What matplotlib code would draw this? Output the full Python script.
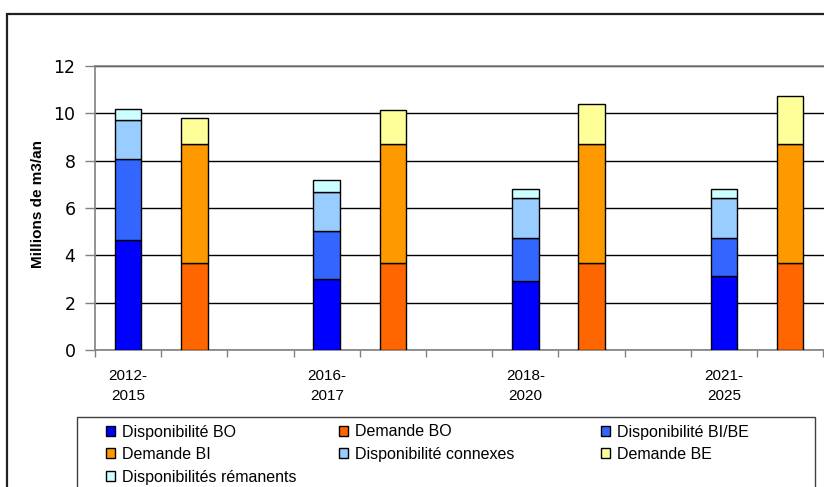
import numpy as np
import matplotlib.pyplot as plt
import matplotlib.patches as patches

plt.rcParams['font.family'] = ['Liberation Sans', 'DejaVu Sans']

# valeurs (millions de m3/an)
periodes = ["2012-\n2015", "2016-\n2017", "2018-\n2020", "2021-\n2025"]
dispo_bo = [4.66, 3.02, 2.92, 3.12]
dispo_bibe = [3.42, 2.01, 1.80, 1.60]
dispo_connexes = [1.65, 1.65, 1.69, 1.69]
dispo_remanents = [0.45, 0.49, 0.40, 0.40]
demande_bo = [3.67, 3.66, 3.67, 3.67]
demande_bi = [5.03, 5.04, 5.05, 5.05]
demande_be = [1.12, 1.45, 1.69, 2.01]

W, H = 824, 487
fig = plt.figure(figsize=(W / 100, H / 100), dpi=100)
ax = fig.add_axes([95 / W, 1 - 350 / H, 12 * 66.2 / W, 284 / H])

x_dispo = np.arange(len(periodes)) * 3 + 0.5
x_dem = x_dispo + 1
larg = 0.4
kw = dict(width=larg, edgecolor='black', linewidth=1, zorder=3)

def empile(xs, series, couleurs):
    bas = np.zeros(len(xs))
    barres = []
    for s, c in zip(series, couleurs):
        b = ax.bar(xs, s, bottom=bas, color=c, **kw)
        bas = bas + np.array(s)
        barres.append(b)
    return barres

b_dbo, b_dbibe, b_dcon, b_drem = empile(
    x_dispo, [dispo_bo, dispo_bibe, dispo_connexes, dispo_remanents],
    ['#0000FF', '#3366FF', '#99CCFF', '#CCFFFF'])
b_mbo, b_mbi, b_mbe = empile(
    x_dem, [demande_bo, demande_bi, demande_be],
    ['#FF6600', '#FF9900', '#FFFF99'])

ax.set_xlim(0, 12)
ax.set_ylim(0, 12)
ax.set_yticks(np.arange(0, 13, 2))
ax.yaxis.grid(True, color='black', linewidth=1, zorder=0)
ax.set_axisbelow(True)
for lab in ax.get_yticklabels():
    lab.set_fontfamily('DejaVu Sans')
ax.tick_params(axis='y', length=7, width=1, color='#808080', pad=7, labelsize=12.5)

ax.set_xticks(np.arange(0, 13))
ax.set_xticklabels([])
ax.set_xticks(x_dispo, minor=True)
ax.set_xticklabels(periodes, minor=True, fontsize=11, linespacing=1.5)
ax.tick_params(axis='x', which='major', length=5, width=1, color='#808080')
ax.tick_params(axis='x', which='minor', length=0, pad=14)

for s in ['left', 'bottom', 'top']:
    ax.spines[s].set_color('#808080')
    ax.spines[s].set_linewidth(1.2)
ax.spines['right'].set_visible(False)

fig.text(38 / W, 1 - 204 / H, "Millions de m3/an", rotation=90, fontsize=11,
         fontweight='bold', ha='center', va='center')

# cadres
fig.patches.append(patches.Rectangle((7 / W, -0.1), 1.2, 1 - 14 / H + 0.1,
                                     transform=fig.transFigure, fill=False,
                                     edgecolor='#202020', linewidth=1.6))
fig.patches.append(patches.Rectangle((77 / W, -0.1), (815 - 77) / W, 1 - 417 / H + 0.1,
                                     transform=fig.transFigure, fill=False,
                                     edgecolor='#404040', linewidth=1))

colonnes = [
    (106, [b_dbo, b_mbi, b_drem], ["Disponibilité BO", "Demande BI", "Disponibilités rémanents"]),
    (339, [b_mbo, b_dcon], ["Demande BO", "Disponibilité connexes"]),
    (601, [b_dbibe, b_mbe], ["Disponibilité BI/BE", "Demande BE"]),
]
for xpx, hs, labs in colonnes:
    fig.legend(hs, labs, loc='upper left', bbox_to_anchor=(xpx / W, 1 - 424.5 / H),
               frameon=False, fontsize=11.5, borderpad=0, borderaxespad=0,
               handlelength=0.58, handleheight=0.58, handletextpad=0.4,
               labelspacing=0.47)

fig.savefig('out.png', dpi=100)
